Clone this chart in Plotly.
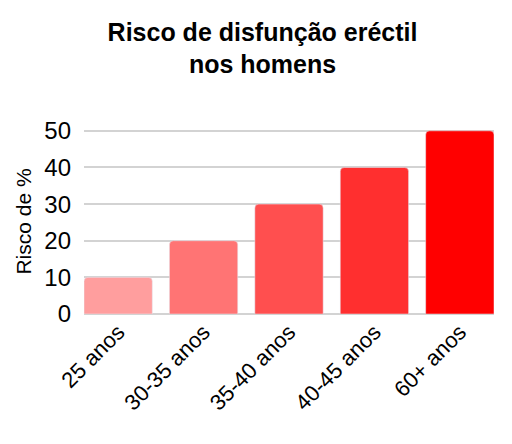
import plotly.graph_objects as go

categories = ["25 anos", "30-35 anos", "35-40 anos", "40-45 anos", "60+ anos"]
risk = [10, 20, 30, 40, 50]
bar_colors = ["#ff9e9e", "#ff7474", "#ff4f4f", "#ff2f2f", "#ff0000"]
y_ticks = [0, 10, 20, 30, 40, 50]

fig = go.Figure(go.Bar(x=categories, y=risk,
                       marker=dict(color=bar_colors, cornerradius=4),
                       width=0.8))

# page is drawn with an 8px body offset, so the figure is a bit smaller
fig.update_layout(
    width=504, height=436,
    margin=dict(l=76, r=18, t=121, b=130),
    paper_bgcolor="white", plot_bgcolor="white",
    font=dict(family="Liberation Sans, Arial, sans-serif", color="black"),
    title=dict(text="<b>Risco de disfunção eréctil<br>nos homens</b>",
               x=0.505, xanchor="center", y=0.925, yanchor="top",
               font=dict(size=25)),
    showlegend=False,
    bargap=0.2,
)
fig.update_xaxes(range=[-0.4, 4.4], tickangle=-45,
                 tickfont=dict(size=22), showgrid=False)
fig.update_yaxes(range=[0, 50.5], tickvals=y_ticks,
                 tickfont=dict(size=24), ticklabelstandoff=12,
                 gridcolor="#d3d3d3", gridwidth=2,
                 zeroline=True, zerolinecolor="#d3d3d3", zerolinewidth=2,
                 title=dict(text="Risco de %", font=dict(size=21), standoff=6))

fig.write_html("out.html")
